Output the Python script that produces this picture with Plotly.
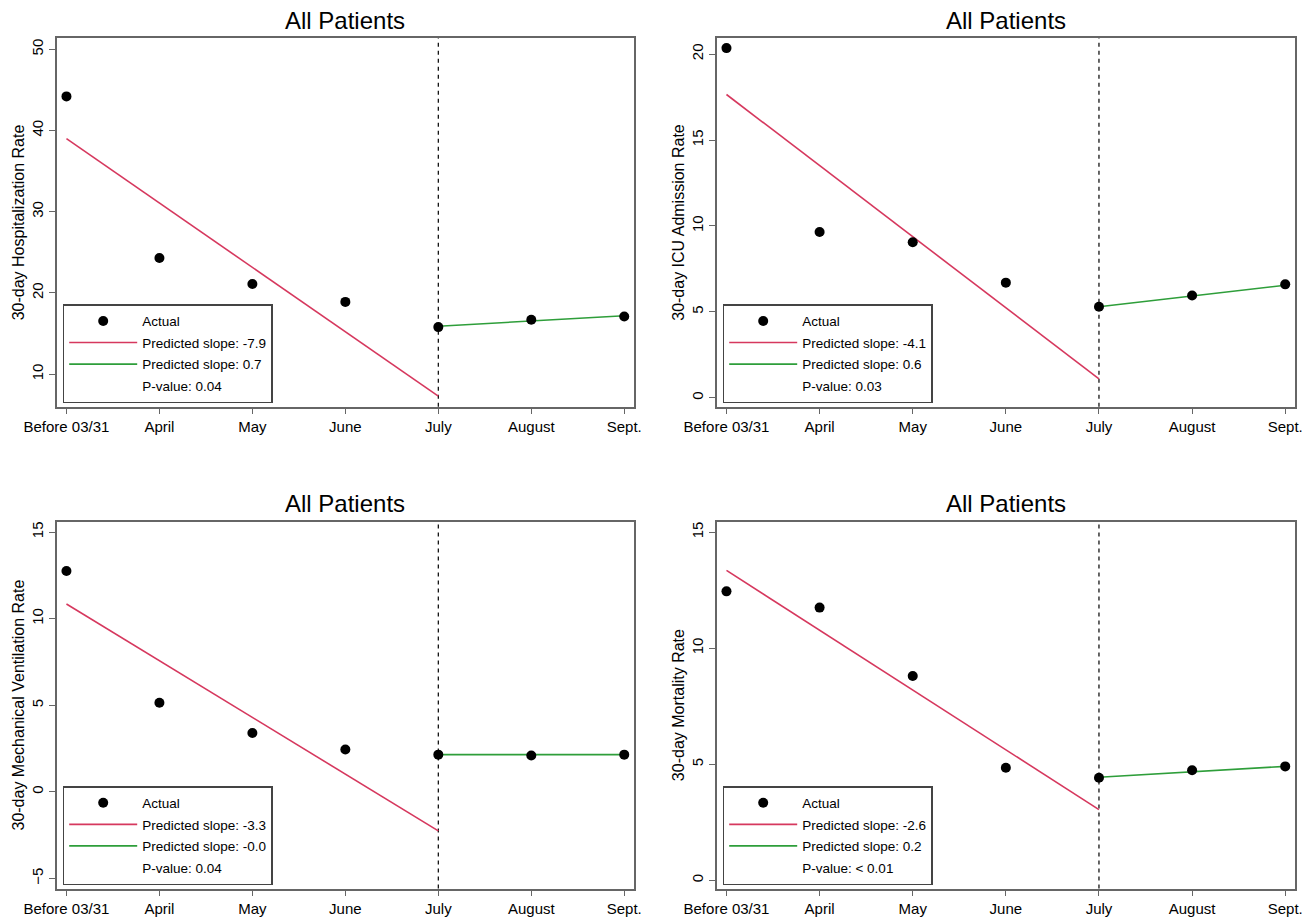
import plotly.graph_objects as go

# ---------------- data ----------------
months = ["Before 03/31", "April", "May", "June", "July", "August", "Sept."]
break_month = "July"

outcome_titles = [
    "30-day Hospitalization Rate",
    "30-day ICU Admission Rate",
    "30-day Mechanical Ventilation Rate",
    "30-day Mortality Rate",
]
panel_title = "All Patients"

hosp_actual = [44.2, 24.3, 21.1, 18.9, 15.8, 16.7, 17.1]
icu_actual = [20.35, 9.65, 9.05, 6.7, 5.3, 5.95, 6.6]
vent_actual = [12.75, 5.15, 3.4, 2.45, 2.15, 2.1, 2.15]
mort_actual = [12.45, 11.75, 8.8, 4.85, 4.42, 4.74, 4.91]

# fitted segment end values (pre: Before 03/31 -> July, post: July -> Sept.)
hosp_pre_fit = [39.0, 7.3]
icu_pre_fit = [17.65, 1.1]
vent_pre_fit = [10.85, -2.25]
mort_pre_fit = [13.35, 3.05]

hosp_post_fit = [15.9, 17.2]
icu_post_fit = [5.3, 6.55]
vent_post_fit = [2.15, 2.15]
mort_post_fit = [4.44, 4.91]

pre_slopes = ["-7.9", "-4.1", "-3.3", "-2.6"]
post_slopes = ["0.7", "0.6", "-0.0", "0.2"]
p_values = ["0.04", "0.03", "0.04", "< 0.01"]

y_ranges = [[6.0, 51.35], [-0.52, 20.92], [-5.58, 15.6], [-0.35, 15.45]]
y_ticks = [[10, 20, 30, 40, 50], [0, 5, 10, 15, 20], [-5, 0, 5, 10, 15], [0, 5, 10, 15]]

actual_series = [hosp_actual, icu_actual, vent_actual, mort_actual]
pre_series = [hosp_pre_fit, icu_pre_fit, vent_pre_fit, mort_pre_fit]
post_series = [hosp_post_fit, icu_post_fit, vent_post_fit, mort_post_fit]

# ---------------- layout geometry ----------------
W, H = 1305, 919
FONT = "Liberation Sans, Arial, sans-serif"
RED = "#D6385E"
GREEN = "#2E9E3A"
AXIS_COL = "#666666"

# plot boxes in page pixels: (left, top, right, bottom)
boxes = [
    (56.7, 38.3, 634.0, 406.7),
    (716.7, 38.3, 1295.0, 406.7),
    (56.7, 521.7, 634.0, 888.5),
    (716.7, 521.7, 1295.0, 888.5),
]


def px_x(v):
    return v / W


def px_y(v):
    return 1 - v / H


x_pad = 0.105
x_range = [-x_pad, len(months) - 1 + x_pad]

fig = go.Figure()
layout = dict(
    width=W, height=H,
    margin=dict(l=0, r=0, t=0, b=0, autoexpand=False),
    paper_bgcolor="white", plot_bgcolor="white",
    font=dict(family=FONT, color="black"),
    showlegend=True,
    shapes=[], annotations=[],
)

start_idx = months.index(break_month)
pre_x = [months[0], months[start_idx]]
post_x = [months[start_idx], months[-1]]

for i in range(4):
    n = "" if i == 0 else str(i + 1)
    xa, ya = "x" + n, "y" + n
    leg = "legend" + n
    l, t, r, b = boxes[i]

    layout["xaxis" + n] = dict(
        domain=[px_x(l), px_x(r)], anchor=ya, type="category",
        categoryorder="array", categoryarray=months,
        range=x_range, tickmode="array", tickvals=months, ticktext=months,
        showline=True, mirror=True, linecolor=AXIS_COL, linewidth=1.5,
        ticks="outside", ticklen=6, tickcolor=AXIS_COL, tickwidth=1.2,
        showgrid=False, zeroline=False, tickfont=dict(size=15, family=FONT),
        ticklabelstandoff=0, automargin=False,
    )
    layout["yaxis" + n] = dict(
        domain=[px_y(b), px_y(t)], anchor=xa, range=y_ranges[i],
        tickmode="array", tickvals=y_ticks[i], tickangle=-90,
        showline=True, mirror=True, linecolor=AXIS_COL, linewidth=1.5,
        ticks="outside", ticklen=6, tickcolor=AXIS_COL, tickwidth=1.2,
        showgrid=False, zeroline=False, tickfont=dict(size=15, family=FONT),
        title=dict(text=outcome_titles[i], font=dict(size=16, family=FONT), standoff=0),
        automargin=False,
    )
    layout[leg] = dict(
        x=px_x(l + 6), y=px_y(b - 3.5), xanchor="left", yanchor="bottom",
        xref="paper", yref="paper",
        bordercolor="#444444", borderwidth=1.5, bgcolor="white",
        font=dict(size=13.5, family=FONT), tracegroupgap=1, itemwidth=68,
    )

    fig.add_trace(go.Scatter(
        x=pre_x, y=pre_series[i], mode="lines", xaxis=xa, yaxis=ya,
        line=dict(color=RED, width=1.6), name="Predicted slope: " + pre_slopes[i],
        legend=leg, legendgroup=f"pre{i}", legendrank=2, hoverinfo="skip"))
    fig.add_trace(go.Scatter(
        x=post_x, y=post_series[i], mode="lines", xaxis=xa, yaxis=ya,
        line=dict(color=GREEN, width=1.6), name="Predicted slope: " + post_slopes[i],
        legend=leg, legendgroup=f"post{i}", legendrank=3, hoverinfo="skip"))
    fig.add_trace(go.Scatter(
        x=[None], y=[None], mode="lines", xaxis=xa, yaxis=ya,
        line=dict(color="rgba(0,0,0,0)", width=0), name="P-value: " + p_values[i],
        legend=leg, legendgroup=f"p{i}", legendrank=4, hoverinfo="skip"))
    fig.add_trace(go.Scatter(
        x=months, y=actual_series[i], mode="markers", xaxis=xa, yaxis=ya,
        marker=dict(color="black", size=10), name="Actual",
        legend=leg, legendgroup=f"act{i}", legendrank=1))

    layout["shapes"].append(dict(
        type="line", xref=xa, yref=ya + " domain",
        x0=start_idx, x1=start_idx, y0=0, y1=1,
        line=dict(color="black", width=1.2, dash="4px,4px"), layer="below"))
    layout["annotations"].append(dict(
        text=panel_title, xref=xa + " domain", yref=ya + " domain",
        x=0.5, y=1, xanchor="center", yanchor="middle", yshift=17.8,
        showarrow=False, font=dict(size=24, family=FONT, color="black")))

fig.update_layout(**layout)
fig.write_html(
    "out.html",
    config={"displayModeBar": False},
    post_script="document.body.style.margin='0px';document.body.style.overflow='hidden';",
)
